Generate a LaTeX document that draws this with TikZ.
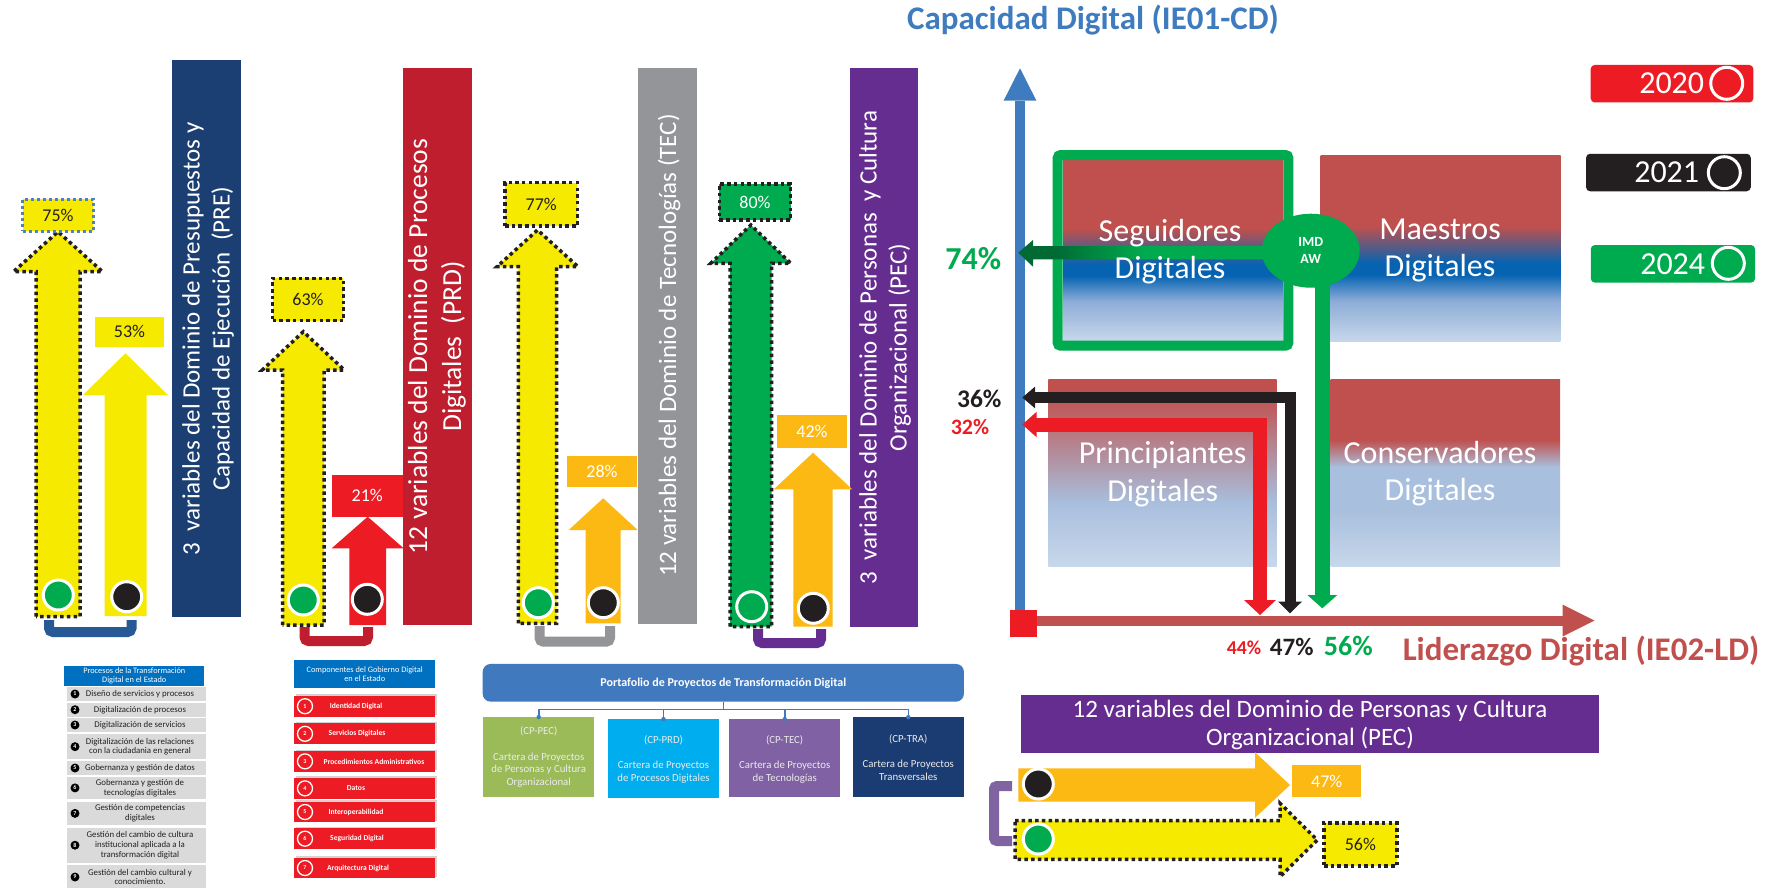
\documentclass[tikz,border=0pt]{standalone}
\usepackage{fontspec}
\setmainfont{Carlito}
\usetikzlibrary{calc,shapes.geometric,shadows}
\definecolor{preblue}{RGB}{27,63,114}
\definecolor{prdred}{RGB}{190,30,45}
\definecolor{tecgray}{RGB}{147,149,152}
\definecolor{pecpurple}{RGB}{102,45,145}
\definecolor{lpurple}{RGB}{128,100,162}
\definecolor{brblue}{RGB}{38,89,150}
\definecolor{yel}{RGB}{246,235,0}
\definecolor{ora}{RGB}{253,185,19}
\definecolor{grn}{RGB}{0,170,78}
\definecolor{dkgrn}{RGB}{0,105,52}
\definecolor{red2}{RGB}{237,28,36}
\definecolor{blk}{RGB}{35,31,32}
\definecolor{dotblue}{RGB}{79,129,189}
\definecolor{axblue}{RGB}{63,123,191}
\definecolor{qred}{RGB}{192,80,77}
\definecolor{qblue}{RGB}{5,99,178}
\definecolor{qmid}{RGB}{140,172,215}
\definecolor{qpale}{RGB}{168,191,221}
\definecolor{qlight}{RGB}{200,216,235}
\definecolor{listblue}{RGB}{0,112,192}
\definecolor{listgray}{RGB}{218,218,218}
\definecolor{portblue}{RGB}{65,121,190}
\definecolor{cppec}{RGB}{155,187,89}
\definecolor{cpprd}{RGB}{0,174,239}
\definecolor{cptec}{RGB}{128,97,163}
\definecolor{cptra}{RGB}{27,60,114}
\pgfdeclareverticalshading{topquad}{100bp}{color(0bp)=(qlight); color(25bp)=(qlight); color(36bp)=(qmid); color(43bp)=(qblue); color(46bp)=(qblue); color(56bp)=(qred); color(100bp)=(qred)}
\pgfdeclareverticalshading{lowquadA}{100bp}{color(0bp)=(qlight); color(25bp)=(qlight); color(42bp)=(qpale); color(71bp)=(qred); color(100bp)=(qred)}
\pgfdeclareverticalshading{lowquadB}{100bp}{color(0bp)=(qlight); color(25bp)=(qlight); color(40bp)=(qpale); color(51.6bp)=(qpale); color(58.8bp)=(qred); color(100bp)=(qred)}
\pgfdeclarehorizontalshading{greenfade}{100bp}{color(0bp)=(dkgrn); color(32bp)=(dkgrn); color(50bp)=(grn); color(100bp)=(grn)}
\tikzset{
  dotline/.style={draw=blk, line width=3.5, dash pattern=on 3.5 off 3.2},
  bluedots/.style={draw=dotblue, line width=3, dash pattern=on 3 off 3},
  pct/.style={inner sep=0, font=\fontsize{18}{18}\selectfont, text=blk},
  yearball/.style={circle, draw=white, line width=3, minimum size=30, inner sep=0},
  vbar/.style={inner sep=0, outer sep=0},
  bartext/.style={rotate=90, text=white, align=center, inner sep=0},
  bracket/.style={line width=10, rounded corners=4},
  quadtext/.style={text=white, align=center, font=\fontsize{32}{37.3}\selectfont},
  legbox/.style={rounded corners=4, inner sep=0, minimum height=37.5},
  legtext/.style={text=white, inner sep=0, font=\fontsize{32}{32}\selectfont},
  legring/.style={circle, draw=white, line width=3, minimum size=32, inner sep=0},
  procbox/.style={fill=listgray, minimum width=139, inner sep=0},
  procnum/.style={circle, fill=black, text=white, inner sep=0, minimum size=9, font=\fontsize{6}{6}\selectfont\bfseries},
  proctext/.style={align=center, text=blk, inner sep=0, font=\fontsize{8.8}{9.7}\selectfont},
  listhead/.style={fill=listblue, text=white, align=center, inner sep=0, font=\fontsize{8.3}{8.6}\selectfont},
  compbox/.style={fill=red2, minimum width=140.7, inner sep=0, drop shadow={shadow xshift=1.5, shadow yshift=-1.5, opacity=0.35}},
  compnum/.style={circle, draw=white, line width=1.3, fill=red2, text=white, minimum size=15, inner sep=0, font=\fontsize{6}{6}\selectfont\bfseries},
  comptext/.style={text=white, inner sep=0, font=\fontsize{7.6}{7.6}\selectfont\bfseries},
  portline/.style={draw=portblue, line width=1.6},
  cpbox/.style={inner sep=0},
  cptext/.style={text=white!92!black, align=center, inner sep=0, font=\fontsize{10.8}{12.7}\selectfont},
}
% up arrow: centre x, half shaft, half head, tip y, head base y, bottom y, style
\newcommand{\UpArrow}[7]{
  \path[#7] ({#1-#2},#6) -- ({#1-#2},#5) -- ({#1-#3},#5) -- (#1,#4) -- ({#1+#3},#5) -- ({#1+#2},#5) -- ({#1+#2},#6) -- cycle;
}
% right arrow: centre y, half shaft, half head, left x, head base x, tip x, style
\newcommand{\RightArrow}[7]{
  \path[#7] (#4,{#1-#2}) -- (#5,{#1-#2}) -- (#5,{#1-#3}) -- (#6,#1) -- (#5,{#1+#3}) -- (#5,{#1+#2}) -- (#4,{#1+#2}) -- cycle;
}
\newcommand{\ProcItem}[4]{
  \node[procbox, minimum height={#3-#2}] (proc#1) at (136.5,{(#2+#3)/2}) {};
  \node[procnum] (pnum#1) at (75,{(#2+#3)/2}) {#1};
  \node[proctext] (ptext#1) at (140,{(#2+#3)/2}) {#4};
}
\newcommand{\CompItem}[5]{
  \node[compbox, minimum height={#3-#2}] (comp#1) at (364.7,{(#2+#3)/2}) {};
  \node[compnum] (cnum#1) at (305,{(#2+#3)/2}) {#1};
  \node[comptext] (ctext#1) at (#4,{(#2+#3)/2}) {#5};
}

\begin{document}
\begin{tikzpicture}[x=1pt,y=-1pt]
  \useasboundingbox[fill=white] (0,0) rectangle (1782,887);

  % --- domain bars
  \node[vbar, fill=preblue, minimum width=69, minimum height=557] (prebar) at (206.5,338.5) {};
  \node[bartext, font=\fontsize{25}{30}\selectfont] (pretext) at (208,339) {3\ \ variables del Dominio de Presupuestos y\\Capacidad de Ejecución\ \ (PRE)};
  \node[vbar, fill=prdred, minimum width=69, minimum height=557] (prdbar) at (437.5,346.5) {};
  \node[bartext, font=\fontsize{27.5}{34}\selectfont] (prdtext) at (437,346.5) {12 variables del Dominio de Procesos\\Digitales\ \ (PRD)};
  \node[vbar, fill=tecgray, minimum width=58.4, minimum height=556] (tecbar) at (667.5,346) {};
  \node[bartext, font=\fontsize{25}{30}\selectfont] (tectext) at (669,345.5) {12 variables del Dominio de Tecnologías (TEC)};
  \node[vbar, fill=pecpurple, minimum width=68, minimum height=558.7] (pecbar) at (884,347.3) {};
  \node[bartext, font=\fontsize{25}{30}\selectfont] (pectext) at (885,347.5) {3\ \ variables del Dominio de Personas\ \ y Cultura\\Organizacional (PEC)};

  % --- brackets
  \draw[bracket, brblue] (49,620) -- (49,632) -- (131.5,632) -- (131.5,620);
  \draw[bracket, prdred] (304.5,627) -- (304.5,641) -- (368,641) -- (368,627);
  \draw[bracket, tecgray] (539.5,626) -- (539.5,641.7) -- (610,641.7) -- (610,626);
  \draw[bracket, pecpurple] (758,629) -- (758,643) -- (821,643) -- (821,629);

  % --- PRE
  \UpArrow{58}{22}{44.5}{231.7}{271.7}{616.7}{fill=yel, dotline}
  \UpArrow{125.5}{21}{42.5}{353.3}{395}{616}{fill=yel}
  \node[pct, fill=yel, bluedots, minimum width=70.6, minimum height=32] (p75) at (58,215) {75\%};
  \node[pct, fill=yel, minimum width=69, minimum height=30] (p53) at (129.5,331.7) {53\%};
  \node[yearball, fill=grn] (g1) at (58.3,595) {};
  \node[yearball, fill=blk] (b1) at (126.7,596.7) {};

  % --- PRD
  \UpArrow{303.3}{20.7}{41}{331.7}{370}{625}{fill=yel, dotline}
  \UpArrow{367.7}{18.3}{36}{516.7}{548.3}{625}{fill=red2}
  \node[pct, fill=yel, dotline, minimum width=70.6, minimum height=42.4] (p63) at (308,299.5) {63\%};
  \node[pct, fill=red2, text=white, minimum width=71, minimum height=41.7] (p21) at (367.2,495.8) {21\%};
  \node[yearball, fill=grn] (g2) at (303.3,600) {};
  \node[yearball, fill=blk] (b2) at (367.3,599.3) {};

  % --- TEC
  \UpArrow{537.5}{19.2}{40.5}{230}{266.7}{623.3}{fill=yel, dotline}
  \UpArrow{603.2}{17.5}{34.5}{498.3}{530}{623.3}{fill=ora}
  \node[pct, fill=yel, dotline, minimum width=72.3, minimum height=43.3] (p77) at (541.2,204.3) {77\%};
  \node[pct, fill=ora, text=white, minimum width=69.4, minimum height=31.3] (p28) at (602,471.7) {28\%};
  \node[yearball, fill=grn] (g3) at (538.3,602.7) {};
  \node[yearball, fill=blk] (b3) at (603.3,602.7) {};

  % --- PEC
  \UpArrow{750.8}{20.8}{40}{225}{263.3}{626.7}{fill=grn, dotline}
  \UpArrow{813}{19.7}{39.2}{452.7}{489.3}{626.7}{fill=ora}
  \node[pct, fill=grn, dotline, text=white, minimum width=71.4, minimum height=36] (p80) at (755,202) {80\%};
  \node[pct, fill=ora, text=white, minimum width=69.4, minimum height=33.3] (p42) at (812,431.7) {42\%};
  \node[yearball, fill=grn] (g4) at (751.7,606.7) {};
  \node[yearball, fill=blk] (b4) at (813.3,608.3) {};

  % --- quadrants
  \shade[shading=topquad] (1063,160) rectangle (1283,340.7);
  \shade[shading=topquad] (1320.6,155) rectangle (1560.5,341.7);
  \shade[shading=lowquadA] (1048.3,379) rectangle (1276.7,566.7);
  \shade[shading=lowquadB] (1330.7,379) rectangle (1560,566.7);
  \draw[grn, line width=10, rounded corners=3] (1057.7,155) rectangle (1288.3,345.7);

  % --- axes
  \coordinate (orig) at (1020,621);
  \coordinate (cdtop) at (1020,100.5);
  \coordinate (ldend) at (1562.7,621);
  \draw[axblue, line width=10.7] (1020,626) -- (cdtop);
  \fill[axblue] (1003.7,100.5) -- (1036.3,100.5) -- (1020,68.3) -- cycle;
  \draw[qred, line width=10.7] (1036,621) -- (ldend);
  \fill[qred] (1562.7,604.6) -- (1562.7,636.4) -- (1594.5,620.5) -- cycle;
  \fill[red2] (1010,610) rectangle (1036.7,636.7);

  % --- trajectories
  \draw[blk, line width=11, line join=miter] (1290,602.5) -- (1290,397.5) -- (1034,397.5);
  \fill[blk] (1278.2,601.7) -- (1301.8,601.7) -- (1290,613.3) -- cycle;
  \fill[blk] (1035,386.7) -- (1035,408.3) -- (1022.3,397.5) -- cycle;
  \draw[red2, line width=14, line join=miter] (1260,601) -- (1260,424.5) -- (1036,424.5);
  \fill[red2] (1244,600) -- (1276,600) -- (1260,615) -- cycle;
  \fill[red2] (1036.7,411.7) -- (1036.7,437.3) -- (1022.3,424.5) -- cycle;
  \draw[grn, line width=15] (1322.5,270) -- (1322.5,596);
  \fill[grn] (1307.3,595) -- (1337.3,595) -- (1322.3,608.3) -- cycle;
  \shade[shading=greenfade] (1033,246) -- (1268,246) -- (1268,259.3) -- (1033,259.3) -- (1033,266.7) -- (1018.3,252.7) -- (1033,240) -- cycle;
  \node[ellipse, fill=grn, minimum width=98, minimum height=74, inner sep=0, text=white, align=center, font=\fontsize{14}{16.7}\selectfont\bfseries] (imd) at (1310.7,250.7) {IMD\\AW};

  \node[quadtext] (seg) at (1170,251.3) {Seguidores\\Digitales};
  \node[quadtext] (mae) at (1440,250.5) {Maestros\\Digitales};
  \node[quadtext] (pri) at (1162.7,474.2) {Principiantes\\Digitales};
  \node[quadtext] (con) at (1440,473.3) {Conservadores\\Digitales};

  \node[text=axblue, font=\fontsize{33}{33}\selectfont\bfseries] (cdtitle) at (1093,20) {Capacidad Digital (IE01-CD)};
  \node[text=qred, font=\fontsize{33}{33}\selectfont\bfseries] (ldtitle) at (1581,651) {Liderazgo Digital (IE02-LD)};
  \node[text=grn, font=\fontsize{32}{32}\selectfont\bfseries] (v74) at (973.3,258.3) {74\%};
  \node[text=blk, font=\fontsize{25.4}{25.4}\selectfont\bfseries] (v36) at (979.3,399.3) {36\%};
  \node[text=red2, font=\fontsize{22}{22}\selectfont\bfseries] (v32) at (970,427.3) {32\%};
  \node[text=red2, font=\fontsize{19.7}{19.7}\selectfont\bfseries] (h44) at (1244,647.3) {44\%};
  \node[text=blk, font=\fontsize{25}{25}\selectfont\bfseries] (h47) at (1291.7,647.3) {47\%};
  \node[text=grn, font=\fontsize{28}{28}\selectfont\bfseries] (h56) at (1348.3,646) {56\%};

  % --- legend
  \node[legbox, fill=red2, minimum width=162.6] (l2020) at (1672,83.7) {};
  \node[legtext] (t2020) at (1671.7,83.3) {2020};
  \node[legring] (r2020) at (1726.7,83.3) {};
  \node[legbox, fill=blk, minimum width=164.7] (l2021) at (1668.4,172.5) {};
  \node[legtext] (t2021) at (1666.7,172.5) {2021};
  \node[legring] (r2021) at (1724.3,172.7) {};
  \node[legbox, fill=grn, minimum width=164.3] (l2024) at (1672.9,263.8) {};
  \node[legtext] (t2024) at (1672.7,263.8) {2024};
  \node[legring] (r2024) at (1728.3,263.3) {};

  % --- PEC 12 variables
  \node[fill=pecpurple, minimum width=578.3, minimum height=57.7, inner sep=0] (pecbox) at (1309.9,723.9) {};
  \node[text=white, align=center, inner sep=0, font=\fontsize{25}{28.6}\selectfont] (pecbtext) at (1310,725) {12 variables del Dominio de Personas y Cultura\\Organizacional (PEC)};
  \draw[bracket, lpurple, rounded corners=3] (1012,786) -- (994,786) -- (994,841) -- (1012,841);
  \RightArrow{785}{16.7}{32.8}{1018.3}{1255}{1290}{fill=ora}
  \RightArrow{840}{19.3}{36.7}{1015}{1280}{1317.3}{fill=yel, dotline}
  \node[yearball, fill=blk] (b5) at (1038.3,784) {};
  \node[yearball, fill=grn] (g5) at (1038.3,839) {};
  \node[pct, fill=ora, text=white, minimum width=68.7, minimum height=32.3] (p47) at (1326.7,781.2) {47\%};
  \node[pct, fill=yel, dotline, minimum width=72.7, minimum height=43.3] (p56) at (1360.4,844.4) {56\%};

  % --- procesos
  \node[listhead, minimum width=140, minimum height=20] (prochead) at (134.3,676) {Procesos de la Transformación\\Digital en el Estado};
  \ProcItem{1}{687.3}{700.7}{Diseño de servicios y procesos}
  \ProcItem{2}{702.7}{716.7}{Digitalización de procesos}
  \ProcItem{3}{718.3}{731.7}{Digitalización de servicios}
  \ProcItem{4}{734}{759.3}{Digitalización de las relaciones\\con la ciudadania en general}
  \ProcItem{5}{761}{775}{Gobernanza y gestión de datos}
  \ProcItem{6}{776.5}{799.3}{Gobernanza y gestión de\\tecnologías digitales}
  \ProcItem{7}{801.7}{825}{Gestión de competencias\\digitales}
  \ProcItem{8}{827.7}{862.7}{Gestión del cambio de cultura\\institucional aplicada a la\\transformación digital}
  \ProcItem{9}{865}{889}{Gestión del cambio cultural y\\conocimiento.}

  % --- componentes
  \node[listhead, minimum width=140.7, minimum height=28.3] (comphead) at (364.7,674.2) {Componentes del Gobierno Digital\\en el Estado};
  \CompItem{1}{695.7}{716.7}{356}{Identidad Digital}
  \CompItem{2}{723.3}{744.3}{357}{Servicios Digitales}
  \CompItem{3}{751}{771.7}{374}{Procedimientos Administrativos}
  \CompItem{4}{777.7}{799}{356}{Datos}
  \CompItem{5}{801.7}{822.3}{356}{Interoperabilidad}
  \CompItem{6}{828.3}{849}{357}{Seguridad Digital}
  \CompItem{7}{857.7}{878.3}{358}{Arquitectura Digital}

  % --- portafolio
  \node[rounded corners=8, fill=portblue, minimum width=481.3, minimum height=37.7, inner sep=0, text=white, font=\fontsize{12}{12}\selectfont\bfseries] (port) at (723.3,682.8) {Portafolio de Proyectos de Transformación Digital};
  \node[cpbox, fill=cppec, minimum width=110.7, minimum height=79.4] (cpec) at (538.7,757) {};
  \node[cpbox, fill=cpprd, minimum width=110.4, minimum height=79] (cprd) at (663.5,758.8) {};
  \node[cpbox, fill=cptec, minimum width=110.7, minimum height=78] (ctec) at (784.7,758.3) {};
  \node[cpbox, fill=cptra, minimum width=111.3, minimum height=79.4] (ctra) at (908.3,757) {};
  \coordinate (pj) at (723.3,709.3);
  \draw[portline] (port.south) -- (pj);
  \draw[portline] (cpec.north |- pj) -- (ctra.north |- pj);
  \draw[portline] (cpec.north |- pj) -- (cpec.north);
  \draw[portline] (cprd.north |- pj) -- (cprd.north);
  \draw[portline] (ctec.north |- pj) -- (ctec.north);
  \draw[portline] (ctra.north |- pj) -- (ctra.north);
  \fill[portblue] (cpec.north) circle (2.2) (cprd.north) circle (2.2) (ctec.north) circle (2.2) (ctra.north) circle (2.2);
  \node[cptext] (cpeccode) at (538.7,731.7) {(CP-PEC)};
  \node[cptext] (cpectext) at (538.7,770) {Cartera de Proyectos\\de Personas y Cultura\\Organizacional};
  \node[cptext] (cprdcode) at (663.5,740) {(CP-PRD)};
  \node[cptext] (cprdtext) at (663.5,772.2) {Cartera de Proyectos\\de Procesos Digitales};
  \node[cptext] (ctecode) at (784.7,740) {(CP-TEC)};
  \node[cptext] (ctectext) at (784.7,772.2) {Cartera de Proyectos\\de Tecnologías};
  \node[cptext] (ctracode) at (908.3,739.3) {(CP-TRA)};
  \node[cptext] (ctratext) at (908.3,770.3) {Cartera de Proyectos\\Transversales};
\end{tikzpicture}
\end{document}
